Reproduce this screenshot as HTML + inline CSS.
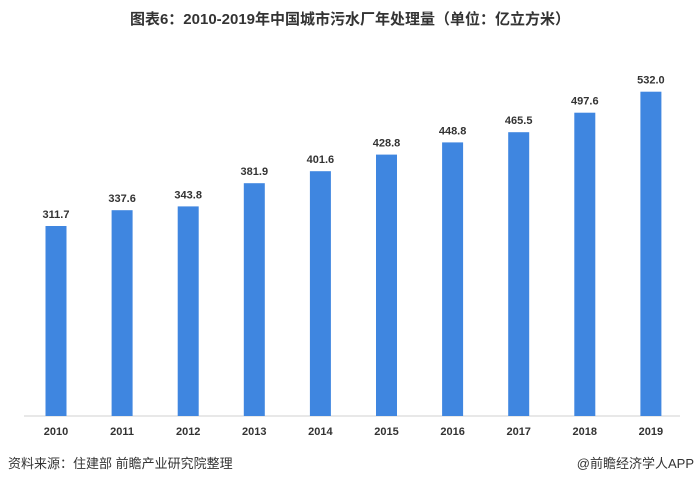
<!DOCTYPE html>
<html><head><meta charset="utf-8"><style>
body{margin:0;background:#fff;width:700px;height:486px;overflow:hidden}
</style></head><body>
<svg width="700" height="486" xmlns="http://www.w3.org/2000/svg" font-family="Liberation Sans, Noto Sans CJK SC, sans-serif">
<text x="350" y="24" text-anchor="middle" font-size="15" font-weight="bold" fill="#333">图表6：2010-2019年中国城市污水厂年处理量（单位：亿立方米）</text>
<line x1="24" y1="416" x2="680" y2="416" stroke="#d0d0d0" stroke-width="1"/>
<g fill="#3f86e0">
<rect x="45.5" y="226.0" width="21" height="190.0"/>
<rect x="111.6" y="210.2" width="21" height="205.8"/>
<rect x="177.7" y="206.4" width="21" height="209.6"/>
<rect x="243.8" y="183.2" width="21" height="232.8"/>
<rect x="309.9" y="171.2" width="21" height="244.8"/>
<rect x="376.0" y="154.6" width="21" height="261.4"/>
<rect x="442.1" y="142.4" width="21" height="273.6"/>
<rect x="508.2" y="132.2" width="21" height="283.8"/>
<rect x="574.3" y="112.7" width="21" height="303.3"/>
<rect x="640.4" y="91.7" width="21" height="324.3"/>
</g>
<g font-size="11" font-weight="bold" fill="#333" text-anchor="middle">
<text x="56" y="218">311.7</text>
<text x="122.1" y="202.2">337.6</text>
<text x="188.2" y="198.4">343.8</text>
<text x="254.3" y="175.2">381.9</text>
<text x="320.4" y="163.2">401.6</text>
<text x="386.5" y="146.6">428.8</text>
<text x="452.6" y="134.4">448.8</text>
<text x="518.7" y="124.2">465.5</text>
<text x="584.8" y="104.7">497.6</text>
<text x="650.9" y="83.7">532.0</text>
<text x="56" y="435">2010</text>
<text x="122.1" y="435">2011</text>
<text x="188.2" y="435">2012</text>
<text x="254.3" y="435">2013</text>
<text x="320.4" y="435">2014</text>
<text x="386.5" y="435">2015</text>
<text x="452.6" y="435">2016</text>
<text x="518.7" y="435">2017</text>
<text x="584.8" y="435">2018</text>
<text x="650.9" y="435">2019</text>
</g>
<text x="8" y="468" font-size="13" fill="#333">资料来源：住建部 前瞻产业研究院整理</text>
<text x="694" y="468" font-size="13" fill="#333" text-anchor="end">@前瞻经济学人APP</text>
</svg>
</body></html>
